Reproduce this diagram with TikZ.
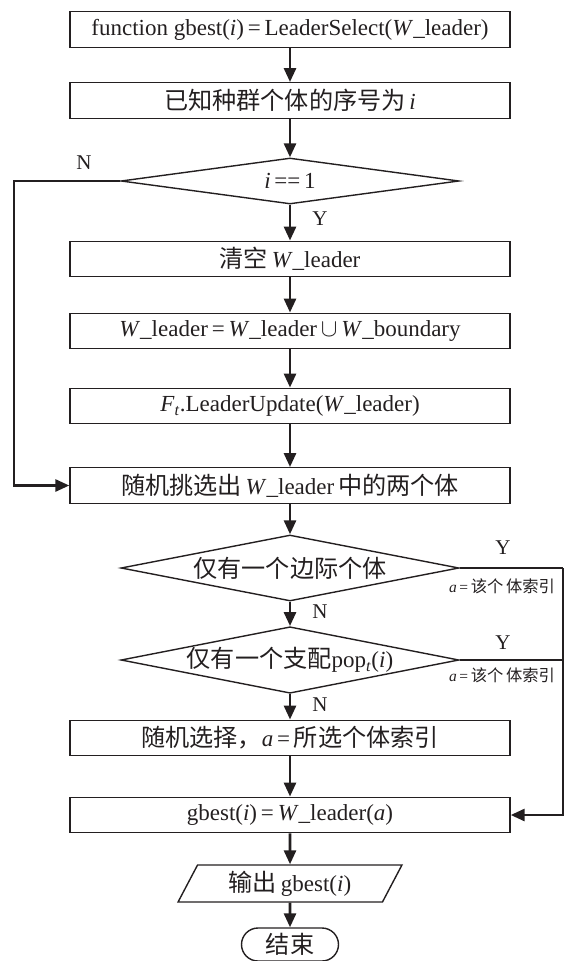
\documentclass[tikz,border=0pt]{standalone}
\usepackage{fontspec}
\setmainfont{Liberation Serif}
\newfontfamily\cjk[Scale=1.05]{Noto Sans CJK SC}
\usetikzlibrary{shapes.geometric,shapes.misc,arrows.meta}
\definecolor{ink}{RGB}{35,31,32}
\begin{document}
\begin{tikzpicture}[x=1pt,y=-1pt,
  every node/.style={text=ink},
  box/.style={draw=ink, line width=1.4pt, minimum width=440pt, minimum height=35.5pt, inner sep=0pt, font=\fontsize{23}{27}\selectfont},
  dec/.style={draw=ink, diamond, aspect=5, line width=1.4pt, minimum width=338pt, inner sep=0pt, font=\fontsize{23}{27}\selectfont},
  io/.style={draw=ink, trapezium, trapezium left angle=63, trapezium right angle=117, trapezium stretches=true, line width=1.4pt, minimum width=224pt, minimum height=37pt, inner sep=0pt, font=\fontsize{23}{27}\selectfont},
  term/.style={draw=ink, rounded rectangle, line width=1.4pt, minimum width=97pt, minimum height=33pt, inner sep=0pt, font=\fontsize{23}{27}\selectfont},
  conn/.style={draw=ink, line width=2.8pt, -{Triangle[length=14pt,width=12pt]}},
  plain/.style={draw=ink, line width=2.8pt},
  lab/.style={font=\fontsize{21}{25}\selectfont, inner sep=0pt},
  small/.style={font=\fontsize{15.5}{19}\selectfont, inner sep=0pt}]
\useasboundingbox (0,0) rectangle (566,961);

\node[box] (b1) at (290,29.5) {function gbest(\textit{i})\,=\,LeaderSelect(\textit{W}\_leader)};
\node[box] (b2) at (290,100.5) {{\cjk 已知种群个体的序号为}\,\textit{i}};
\node[dec, minimum height=46pt] (d1) at (290,181) {\textit{i}\,==\,1};
\node[box] (b3) at (290,259) {{\cjk 清空}\,\textit{W}\_leader};
\node[box] (b4) at (290,331) {\textit{W}\_leader\,=\,\textit{W}\_leader\,$\cup$\,\textit{W}\_boundary};
\node[box] (b5) at (290,406) {\textit{F}\textsubscript{\textit{t}}.LeaderUpdate(\textit{W}\_leader)};
\node[box] (b6) at (290,485.5) {{\cjk 随机挑选出}\,\textit{W}\_leader\,{\cjk 中的两个体}};
\node[dec, minimum height=66pt] (d2) at (290,568) {{\cjk 仅有一个边际个体}};
\node[dec, minimum height=66pt] (d3) at (290,660) {{\cjk 仅有一个支配}pop\textsubscript{\textit{t}}(\textit{i})};
\node[box] (b7) at (290,738) {{\cjk 随机选择，}\textit{a}\,=\,{\cjk 所选个体索引}};
\node[box] (b8) at (290,815) {gbest(\textit{i})\,=\,\textit{W}\_leader(\textit{a})};
\node[io] (out) at (290,883.5) {{\cjk 输出}\,gbest(\textit{i})};
\node[term] (end) at (290,944.5) {{\cjk 结束}};

\draw[conn] (b1) -- (b2);
\draw[conn] (b2) -- (d1);
\draw[conn] (d1) -- (b3);
\draw[conn] (b3) -- (b4);
\draw[conn] (b4) -- (b5);
\draw[conn] (b5) -- (b6);
\draw[conn] (b6) -- (d2);
\draw[conn] (d2) -- (d3);
\draw[conn] (d3) -- (b7);
\draw[conn] (b7) -- (b8);
\draw[conn] (b8) -- (out);
\draw[conn] (out) -- (end);

\coordinate (lft) at (14,181);
\draw[conn] (d1.west) -- (lft) |- (b6.west);
\coordinate (rt) at (563,568);
\draw[plain] (d2.east) -- (rt);
\draw[plain] (d3.east) -- (d3.east -| rt);
\draw[conn] (rt) |- (b8.east);

\node[lab] (n1) at (84,163) {N};
\node[lab] (y1) at (320,219) {Y};
\node[lab] (y2) at (503,548) {Y};
\node[small] (a2) at (502,586) {\textit{a}\,=\,{\cjk 该个\,体索引}};
\node[lab] (n2) at (320,612) {N};
\node[lab] (y3) at (503,643) {Y};
\node[small] (a3) at (502,675) {\textit{a}\,=\,{\cjk 该个\,体索引}};
\node[lab] (n3) at (320,705) {N};
\end{tikzpicture}
\end{document}
